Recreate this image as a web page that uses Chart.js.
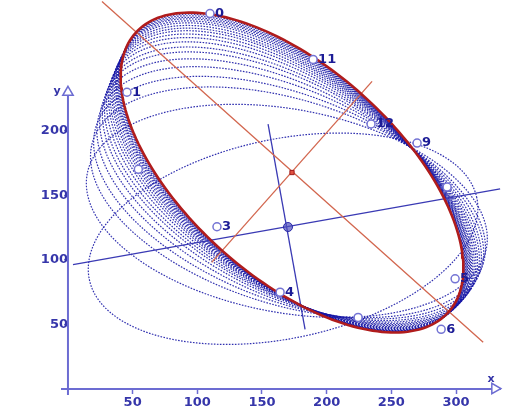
<!DOCTYPE html>
<html>
<head>
<meta charset="utf-8">
<script src="https://cdn.jsdelivr.net/npm/chart.js@4.4.1/dist/chart.umd.min.js"></script>
<style>
  html, body { margin: 0; padding: 0; background: #fff; }
</style>
</head>
<body>
<canvas id="chart" width="531" height="420"></canvas>
<script>
// Ellipse fitting picture: measured points, the final fitted ellipse (red)
// and the intermediate ellipses (blue, dotted) seen on the way there.

// tick labels
const xTicks = [50, 100, 150, 200, 250, 300];
const yTicks = [50, 100, 150, 200];

// numbered measurement points
const pointLabels = ['0', '1', '', '3', '4', '5', '6', '', '', '9', '11', '12'];
const pointX = [109.8, 45.6, 54.4, 115.2, 164.0, 299.3, 288.5, 224.3, 293.1, 269.9, 189.5, 234.3];
const pointY = [291.1, 230.0, 170.2, 125.6, 74.8, 85.2, 46.0, 55.2, 156.4, 190.6, 255.5, 205.4];

// fitted ellipse: centre, semi-axes, tilt in degrees
const fitCentre = [173.2, 167.7];
const fitAxes = [162.4, 81.2];
const fitAngle = -41.9;

// axes of the fitted ellipse (red) and of the start ellipse (blue)
const redMajorX = [26.3, 321.0];
const redMajorY = [300.4, 35.9];
const redMinorX = [111.1, 235.1];
const redMinorY = [98.0, 238.5];
const blueMajorX = [3.9, 334.1];
const blueMajorY = [96.2, 155.0];
const blueMinorX = [154.7, 183.3];
const blueMinorY = [205.3, 46.0];
const startCentre = [170.1, 125.4];

// intermediate ellipses
const stepCx = [166.3, 169.2, 170.1, 170.6, 171.0, 171.3, 171.6, 171.8, 172.0, 172.2, 172.3, 172.5, 172.6, 172.7, 172.8, 172.9, 172.9, 173.0, 173.1, 173.1];
const stepCy = [116.3, 137.9, 144.6, 148.2, 151.3, 153.8, 155.9, 157.4, 159.0, 160.2, 161.3, 162.3, 163.1, 163.8, 164.6, 165.2, 165.8, 166.3, 166.8, 167.2];
const stepA = [153.1, 157.0, 158.2, 158.9, 159.4, 159.9, 160.3, 160.5, 160.8, 161.0, 161.2, 161.4, 161.6, 161.7, 161.8, 162.0, 162.1, 162.1, 162.2, 162.3];
const stepB = [77.3, 78.9, 79.4, 79.7, 80.0, 80.1, 80.3, 80.4, 80.5, 80.6, 80.7, 80.8, 80.8, 80.9, 81.0, 81.0, 81.1, 81.1, 81.1, 81.2];
const stepAngle = [12.0, -10.6, -17.6, -21.4, -24.7, -27.3, -29.5, -31.1, -32.7, -34.1, -35.2, -36.2, -37.0, -37.9, -38.7, -39.3, -39.9, -40.4, -40.9, -41.4];

// y axis only runs up to the arrow
const yAxisX = [0, 0];
const yAxisY = [-5, 232];

const AXIS = '#6c6cd2';

// outline of an ellipse in data units
function ellipse(cx, cy, a, b, deg) {
  const r = deg * Math.PI / 180;
  const pts = [];
  for (let i = 0; i <= 200; i++) {
    const t = i / 200 * 2 * Math.PI;
    pts.push({
      x: cx + a * Math.cos(t) * Math.cos(r) - b * Math.sin(t) * Math.sin(r),
      y: cy + a * Math.cos(t) * Math.sin(r) + b * Math.sin(t) * Math.cos(r)
    });
  }
  return pts;
}

function segment(xs, ys) {
  return xs.map((x, i) => ({ x: x, y: ys[i] }));
}

const datasets = [];

// numbered points on top
datasets.push({
  data: pointX.map((x, i) => ({ x: x, y: pointY[i] })),
  showLine: false,
  pointRadius: 4,
  pointBorderWidth: 1.5,
  pointBorderColor: '#7474d4',
  pointBackgroundColor: '#ffffff',
  clip: false
});

// centre markers
datasets.push({
  data: [{ x: fitCentre[0], y: fitCentre[1] }],
  showLine: false,
  pointStyle: 'rect',
  pointRadius: 3,
  pointBorderColor: '#a01c1c',
  pointBackgroundColor: '#e05040',
  clip: false
});
datasets.push({
  data: [{ x: startCentre[0], y: startCentre[1] }],
  showLine: false,
  pointRadius: 4.5,
  pointBorderColor: '#2a2aa8',
  pointBackgroundColor: 'rgba(80,80,190,0.7)',
  clip: false
});

// fitted ellipse
datasets.push({
  data: ellipse(fitCentre[0], fitCentre[1], fitAxes[0], fitAxes[1], fitAngle),
  showLine: true,
  borderColor: '#b01c1c',
  borderWidth: 2.6,
  pointRadius: 0,
  clip: false
});

// axis lines
[[redMajorX, redMajorY, '#d2664e'], [redMinorX, redMinorY, '#d2664e'],
 [blueMajorX, blueMajorY, '#3a3ab4'], [blueMinorX, blueMinorY, '#3a3ab4']].forEach(([xs, ys, c]) => {
  datasets.push({
    data: segment(xs, ys),
    showLine: true,
    borderColor: c,
    borderWidth: 1.3,
    pointRadius: 0,
    clip: false
  });
});

// intermediate ellipses
stepCx.forEach((cx, i) => {
  datasets.push({
    data: ellipse(cx, stepCy[i], stepA[i], stepB[i], stepAngle[i]),
    showLine: true,
    borderColor: 'rgba(20,20,165,0.88)',
    borderWidth: 1.2,
    borderDash: [1.6, 1.4],
    pointRadius: 0,
    clip: false
  });
});

// axis arrow heads
datasets.push({
  data: [{ x: 330, y: 0 }],
  showLine: false,
  pointStyle: 'triangle',
  rotation: 90,
  pointRadius: 6,
  pointBorderWidth: 1.5,
  pointBorderColor: AXIS,
  pointBackgroundColor: '#ffffff',
  clip: false
});
datasets.push({
  data: [{ x: 0, y: 230 }],
  showLine: false,
  pointStyle: 'triangle',
  rotation: 0,
  pointRadius: 6,
  pointBorderWidth: 1.5,
  pointBorderColor: AXIS,
  pointBackgroundColor: '#ffffff',
  clip: false
});

// vertical axis line
datasets.push({
  data: segment(yAxisX, yAxisY),
  showLine: true,
  borderColor: AXIS,
  borderWidth: 2,
  pointRadius: 0,
  clip: false
});

// number labels next to the points, plus axis names
const textPlugin = {
  id: 'texts',
  afterDatasetsDraw(chart) {
    const { ctx, scales } = chart;
    ctx.save();
    ctx.fillStyle = '#1c1c96';
    ctx.font = 'bold 13px "DejaVu Sans"';
    ctx.textBaseline = 'middle';
    ctx.textAlign = 'left';
    pointLabels.forEach((t, i) => {
      if (!t) return;
      ctx.fillText(t, scales.x.getPixelForValue(pointX[i]) + 5, scales.y.getPixelForValue(pointY[i]));
    });
    ctx.font = 'bold 11px "DejaVu Sans"';
    ctx.fillStyle = '#3434a8';
    ctx.textAlign = 'center';
    ctx.fillText('x', scales.x.getPixelForValue(327), scales.y.getPixelForValue(7));
    ctx.fillText('y', scales.x.getPixelForValue(-8.5), scales.y.getPixelForValue(231));
    ctx.restore();
  }
};

new Chart(document.getElementById('chart'), {
  type: 'scatter',
  data: { datasets: datasets },
  plugins: [textPlugin],
  options: {
    responsive: false,
    animation: false,
    events: [],
    layout: { padding: { left: 61.5, top: 0, right: 31, bottom: 25 } },
    plugins: { legend: { display: false }, tooltip: { enabled: false } },
    scales: {
      x: {
        type: 'linear',
        min: -5,
        max: 334,
        position: { y: 0 },
        afterBuildTicks: (s) => { s.ticks = xTicks.map(v => ({ value: v })); },
        afterFit: (s) => { s.paddingLeft = 0; s.paddingRight = 0; },
        border: { color: AXIS, width: 2 },
        grid: { drawOnChartArea: false, tickLength: 4, tickColor: AXIS, tickWidth: 1.5 },
        ticks: { color: '#3636aa', padding: 2, font: { family: 'DejaVu Sans', weight: 'bold', size: 13 } }
      },
      y: {
        type: 'linear',
        min: -5,
        max: 295.8,
        position: { x: 0 },
        afterBuildTicks: (s) => { s.ticks = yTicks.map(v => ({ value: v })); },
        afterFit: (s) => { s.paddingTop = 0; s.paddingBottom = 0; },
        border: { display: false },
        grid: { drawOnChartArea: false, tickLength: 4, tickColor: AXIS, tickWidth: 1.5 },
        ticks: { color: '#3636aa', padding: 3, font: { family: 'DejaVu Sans', weight: 'bold', size: 13 } }
      }
    }
  }
});
</script>
</body>
</html>
